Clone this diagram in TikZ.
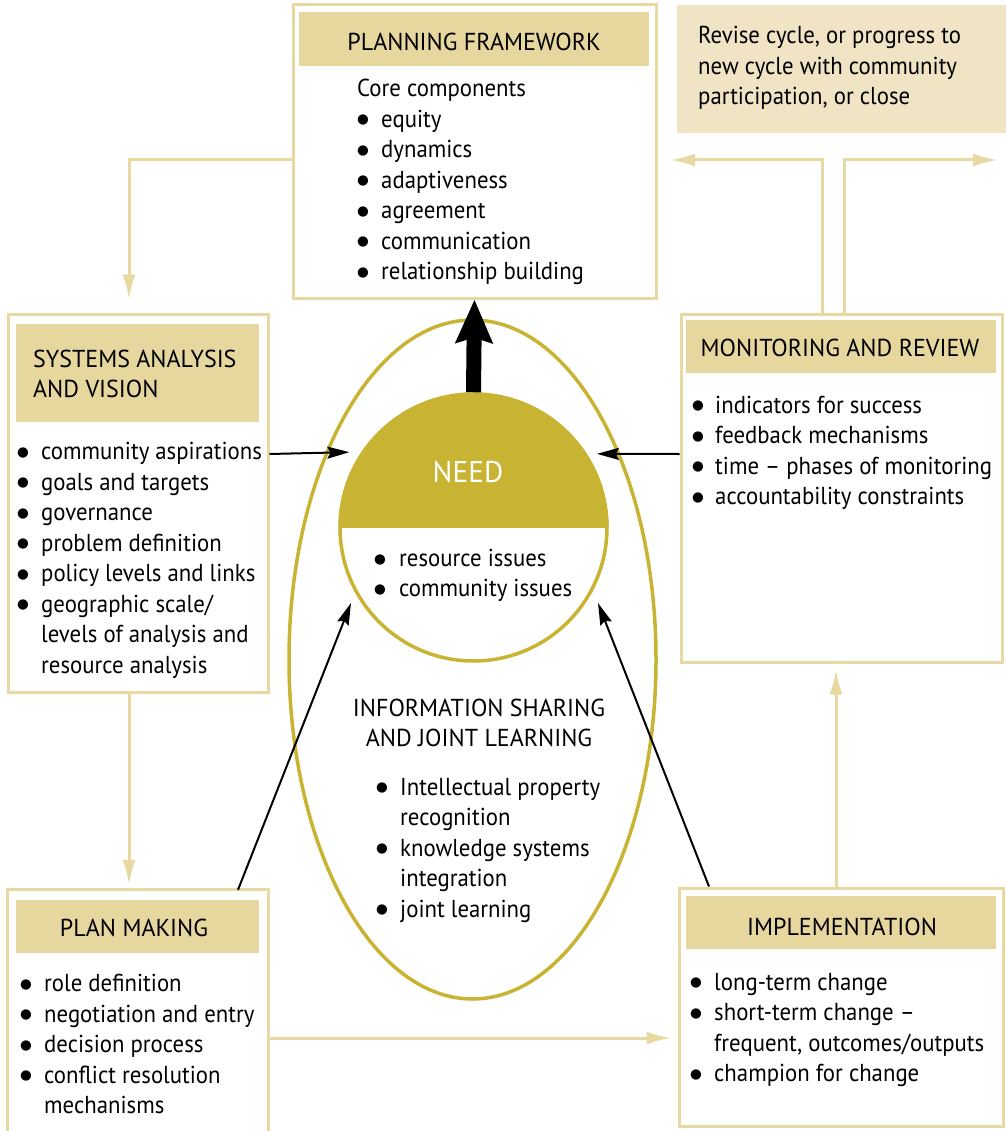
\documentclass[tikz,border=0pt]{standalone}
\usepackage{fontspec}
\setmainfont{PT Sans}[FakeStretch=0.93]
\newfontfamily\hdrfont{PT Sans}[FakeStretch=0.98]
\newfontfamily\symfont{DejaVu Sans}
\usetikzlibrary{arrows.meta,shapes.geometric,calc}
\definecolor{tanline}{HTML}{E8D9A2}
\definecolor{tanfill}{HTML}{E6D79E}
\definecolor{revfill}{HTML}{F0E4C5}
\definecolor{olive}{HTML}{C9B332}
\newlength\bw
\newcommand\blist[2]{\setlength\bw{#1}\begin{tabular}[t]{@{}l@{}l@{}}#2\end{tabular}}
\newcommand\bdot{\raisebox{3.5pt}{\symfont\fontsize{13.5}{13.5}\selectfont ●}}
\newcommand\bul{\makebox[\bw][l]{\bdot}&}
\begin{document}
\begin{tikzpicture}[x=1pt,y=-1pt,
  font=\fontsize{24.5}{30.5}\selectfont,
  box/.style={draw=tanline, line width=3pt, fill=white, inner sep=0pt, rectangle},
  hdr/.style={fill=tanfill, inner sep=0pt, rectangle},
  tanarrow/.style={draw=tanline, line width=3pt, -{Latex[length=25pt,width=13pt]}},
  blkarrow/.style={draw=black, line width=2pt, -{Stealth[length=22pt,width=12pt,inset=3pt]}},
  txt/.style={anchor=base west, inner sep=0pt},
  ctxt/.style={anchor=base, inner sep=0pt},
  htxt/.style={inner sep=0pt, font=\hdrfont\fontsize{24.5}{30.5}\selectfont}]
\useasboundingbox (0,0) rectangle (1005,1131);

% outer egg
\node[ellipse, draw=olive, line width=3.5pt, minimum width=367pt, minimum height=679pt, inner sep=0pt] (egg) at (472.5,659.5) {};

% revise box
\node[fill=revfill, minimum width=333pt, minimum height=128pt, inner sep=0pt] (rev) at (843.5,69) {};
\node[txt] (revt) at (698,44) {\begin{tabular}[t]{@{}l@{}}Revise cycle, or progress to\\new cycle with community\\participation, or close\end{tabular}};

% planning framework
\node[box, minimum width=363pt, minimum height=293pt] (pf) at (474.5,151.5) {};
\node[hdr, minimum width=350pt, minimum height=54pt] (pfh) at (474,39) {};
\node[htxt, anchor=base] (pft) at (474,50.7) {PLANNING FRAMEWORK};
\node[txt] (pfl) at (357,97) {\blist{24pt}{\multicolumn{2}{@{}l@{}}{Core components}\\
 \bul equity\\ \bul dynamics\\ \bul adaptiveness\\ \bul agreement\\ \bul communication\\ \bul relationship building}};

% systems analysis
\node[box, minimum width=260pt, minimum height=378pt] (sys) at (138,503) {};
\node[hdr, minimum width=243pt, minimum height=98pt] (sysh) at (137.5,373) {};
\node[htxt, anchor=base west] (syst1) at (33,367) {SYSTEMS ANALYSIS};
\node[htxt, anchor=base west] (syst2) at (33,397) {AND VISION};
\node[txt] (sysl) at (17,459.6) {\blist{24pt}{\bul community aspirations\\ \bul goals and targets\\ \bul governance\\ \bul problem definition\\ \bul policy levels and links\\ \bul geographic scale/\\ & levels of analysis and\\ & resource analysis}};

% plan making (bottom cut by page)
\node[minimum width=260pt, minimum height=245pt, inner sep=0pt] (pm) at (138,1012.5) {};
\draw[draw=tanline, line width=3pt] (pm.south west) -- (pm.north west) -- (pm.north east) -- (pm.south east);
\node[hdr, minimum width=243pt, minimum height=53pt] (pmh) at (137.5,926.5) {};
\node[htxt, anchor=base] (pmt) at (134,936) {PLAN MAKING};
\node[txt] (pml) at (20,991.7) {\blist{24pt}{\bul role definition\\ \bul negotiation and entry\\ \bul decision process\\ \bul conflict resolution\\ & mechanisms}};

% implementation
\node[box, minimum width=324pt, minimum height=238pt] (impl) at (841,1007) {};
\node[hdr, minimum width=310pt, minimum height=53pt] (implh) at (841,922.5) {};
\node[htxt, anchor=base] (implt) at (842,935) {IMPLEMENTATION};
\node[txt] (impll) at (690,990) {\blist{24pt}{\bul long-term change\\ \bul short-term change –\\ & frequent, outcomes/outputs\\ \bul champion for change}};

% monitoring
\node[box, minimum width=321pt, minimum height=348pt] (mon) at (841.5,488) {};
\node[hdr, minimum width=310pt, minimum height=53pt] (monh) at (841,346.5) {};
\node[htxt, anchor=base] (mont) at (840,356) {MONITORING AND REVIEW};
\node[txt] (monl) at (692,413.3) {\blist{23pt}{\bul indicators for success\\ \bul feedback mechanisms\\ \bul time – phases of monitoring\\ \bul accountability constraints}};

% need circle
\node[circle, draw=olive, line width=3.5pt, minimum size=267pt, inner sep=0pt] (need) at (473.5,527.5) {};
\begin{scope}
  \clip (need.west) rectangle (need.east |- need.north);
  \fill[olive] (need.center) circle[radius=135pt];
\end{scope}
\node[anchor=base, inner sep=0pt, text=white, font=\hdrfont\fontsize{30}{36}\selectfont] (needt) at (468,482.7) {NEED};
\node[txt] (needl) at (374,566.7) {\fontsize{24.5}{30}\selectfont\blist{25pt}{\bul resource issues\\ \bul community issues}};

% information sharing
\node[htxt, anchor=base] (inf1) at (479,716) {INFORMATION SHARING};
\node[htxt, anchor=base] (inf2) at (479,746) {AND JOINT LEARNING};
\node[txt] (infl) at (376,795.3) {\blist{24pt}{\bul Intellectual property\\ & recognition\\ \bul knowledge systems\\ & integration\\ \bul joint learning}};

% free ends
\coordinate (revL) at (670,160);
\coordinate (revR) at (998,160);
\coordinate (tipL) at (351,603);
\coordinate (tipR) at (598,603);

% tan connectors
\draw[tanarrow, shorten >=13pt] ([yshift=-8.5pt]pf.west) -| ([xshift=-9pt]sys.north);
\draw[tanarrow, shorten >=5pt] ([xshift=-9pt]sys.south) -- ([xshift=-9pt]pm.north);
\draw[tanarrow, shorten >=6pt] ([yshift=-25.5pt]pm.east) -- ([yshift=-31pt]impl.west);
\draw[tanarrow, shorten >=6pt] ([xshift=-5pt]impl.north) -- ([xshift=-5.5pt]mon.south);
\draw[tanarrow] ([xshift=-19.5pt]mon.north) |- (revL);
\draw[tanarrow] ([xshift=2.5pt]mon.north) |- (revR);

% black connectors
\draw[blkarrow, shorten >=12pt] ([yshift=49pt]sys.east) -- (need.146.6);
\draw[blkarrow, shorten >=10pt] ([yshift=34pt]mon.west) -- (need.33.4);
\draw[blkarrow] ([xshift=100pt]pm.north) -- (tipL);
\draw[blkarrow] ([xshift=-132pt]impl.north) -- (tipR);
\draw[line width=15pt, -{Stealth[length=43pt,width=36pt,inset=5pt]}] (need.north) -- (pf.south);
\end{tikzpicture}
\end{document}
